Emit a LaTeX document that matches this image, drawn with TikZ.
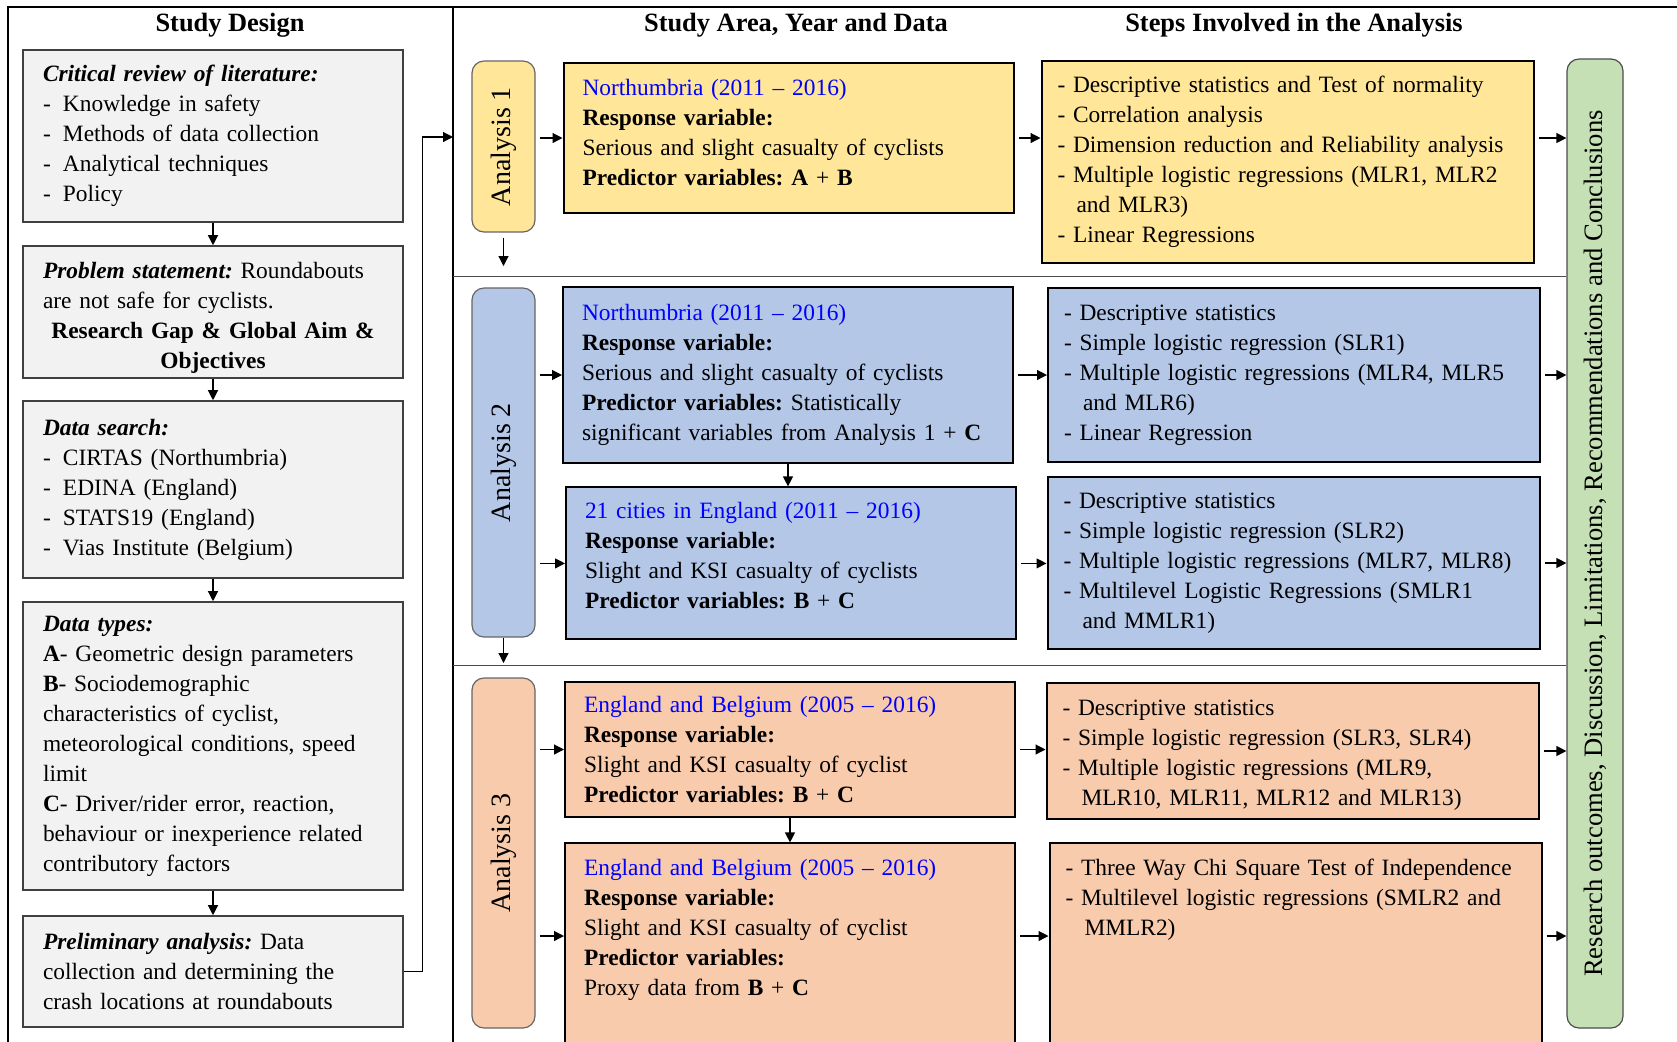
\documentclass[tikz,border=0pt]{standalone}
\usepackage{fontspec}
\setmainfont{Liberation Serif}
\usepackage{graphicx}
\usepackage{tikz}
\usetikzlibrary{arrows.meta,positioning}
\definecolor{boxgray}{RGB}{242,242,242}
\definecolor{anyellow}{RGB}{255,230,153}
\definecolor{anblue}{RGB}{180,199,231}
\definecolor{anpeach}{RGB}{248,203,173}
\definecolor{outgreen}{RGB}{197,224,180}
\definecolor{areablue}{RGB}{0,0,255}
\newcommand{\litem}{\makebox[10pt][l]{-}}

\begin{document}
\frenchspacing
\begin{tikzpicture}[
    x=1pt, y=-1pt,
    font=\fontsize{11.7}{15}\selectfont,
    coltitle/.style={font=\fontsize{13.2}{15}\selectfont\bfseries},
    sdbox/.style={draw=black!75, line width=0.8pt, fill=boxgray, align=left,
                  text width=170pt, inner xsep=10pt, inner ysep=4pt},
    databox/.style={draw=black, line width=1pt, align=left,
                    text width=206pt, inner xsep=9.5pt, inner ysep=4pt},
    stepbox/.style={draw=black, line width=1pt, align=left,
                    text width=230pt, inner xsep=8pt, inner ysep=4pt},
    anbox/.style={draw=black!60, line width=0.6pt, rounded corners=6pt,
                  minimum width=31.5pt, font=\fontsize{14}{16}\selectfont},
    outline/.style={line width=1pt},
    divline/.style={draw=black!70, line width=0.6pt},
    arr/.style={-{Triangle[length=5pt,width=5pt]}, line width=0.6pt},
    harr/.style={arr, shorten <=2pt}
]
\useasboundingbox (0,0) rectangle (838.5,520.5);
\clip (0,0) rectangle (838.5,520.5);

% frame and column titles
\draw[outline] (850,3.5) -- (4,3.5) -- (4,530);
\draw[outline] (226.5,3.5) -- (226.5,530);
\node[coltitle] (t1) at (115,12.5) {Study Design};
\node[coltitle] (t2) at (398,12.5) {Study Area, Year and Data};
\node[coltitle] (t3) at (647,12.5) {Steps Involved in the Analysis};

% study design column
\node[sdbox, minimum height=86pt] (review) at (106.5,68)
     {\textbf{\textit{Critical review of literature:}}\\
      \litem Knowledge in safety\\
      \litem Methods of data collection\\
      \litem Analytical techniques\\
      \litem Policy};
\node[sdbox, minimum height=66pt, text depth=41.6pt, below=11.2pt of review] (problem)
     {\textbf{\textit{Problem statement:}} Roundabouts\\
      are not safe for cyclists.\\
      \makebox[\linewidth]{\textbf{Research Gap \& Global Aim \&}}\\
      \makebox[\linewidth]{\textbf{Objectives}}};
\node[sdbox, minimum height=88.5pt, below=10.7pt of problem] (search)
     {\textbf{\textit{Data search:}}\\
      \litem CIRTAS (Northumbria)\\
      \litem EDINA (England)\\
      \litem STATS19 (England)\\
      \litem Vias Institute (Belgium)};
\node[sdbox, minimum height=144pt, below=11.2pt of search] (types)
     {\textbf{\textit{Data types:}}\\
      \textbf{A}- Geometric design parameters\\
      \textbf{B}- Sociodemographic\\
      characteristics of cyclist,\\
      meteorological conditions, speed\\
      limit\\
      \textbf{C}- Driver/rider error, reaction,\\
      behaviour or inexperience related\\
      contributory factors};
\node[sdbox, minimum height=55.5pt, below=12.2pt of types] (prelim)
     {\textbf{\textit{Preliminary analysis:}} Data\\
      collection and determining the\\
      crash locations at roundabouts};
\draw[arr] (review) -- (problem);
\draw[arr] (problem) -- (search);
\draw[arr] (search) -- (types);
\draw[arr] (types) -- (prelim);
\coordinate (entry) at (226.5,68.5);
\draw[arr] (prelim.east) -- ++(9.5,0) |- (entry);

% analysis labels
\node[anbox, fill=anyellow, minimum height=85.5pt] (A1) at (251.75,73.25)
     {\rotatebox{90}{Analysis 1}};
\node[anbox, fill=anblue, minimum height=174.5pt] (A2) at (251.75,231.25)
     {\rotatebox{90}{Analysis 2}};
\node[anbox, fill=anpeach, minimum height=175pt] (A3) at (251.75,426.5)
     {\rotatebox{90}{Analysis 3}};
\node[anbox, fill=outgreen, draw=black!70, minimum width=28pt, minimum height=484.5pt,
      font=\fontsize{13.3}{16}\selectfont] (G) at (797.5,271.75)
     {\rotatebox{90}{Research outcomes, Discussion, Limitations, Recommendations and Conclusions}};

% row separators
\coordinate (sepA) at (226.5,138.25);
\coordinate (sepB) at (226.5,332.75);
\draw[divline] (sepA) -- (sepA -| G.west);
\draw[divline] (sepB) -- (sepB -| G.west);

% study area, year and data
\node[databox, fill=anyellow, minimum height=75pt, text depth=51pt] (d1) at (394.25,69)
     {\textcolor{areablue}{Northumbria (2011 – 2016)}\\
      \textbf{Response variable:}\\
      Serious and slight casualty of cyclists\\
      \textbf{Predictor variables: A} + \textbf{B}};
\node[databox, fill=anblue, minimum height=88pt] (d2a) at (394,187.5)
     {\textcolor{areablue}{Northumbria (2011 – 2016)}\\
      \textbf{Response variable:}\\
      Serious and slight casualty of cyclists\\
      \textbf{Predictor variables:} Statistically\\
      significant variables from Analysis 1 + \textbf{C}};
\node[databox, fill=anblue, minimum height=76pt, text depth=53pt, below=11.2pt of d2a, xshift=1.5pt] (d2b)
     {\textcolor{areablue}{21 cities in England (2011 – 2016)}\\
      \textbf{Response variable:}\\
      Slight and KSI casualty of cyclists\\
      \textbf{Predictor variables: B} + \textbf{C}};
\node[databox, fill=anpeach, minimum height=67.5pt] (d3a) at (395,374.75)
     {\textcolor{areablue}{England and Belgium (2005 – 2016)}\\
      \textbf{Response variable:}\\
      Slight and KSI casualty of cyclist\\
      \textbf{Predictor variables: B} + \textbf{C}};
\node[databox, fill=anpeach, inner ysep=8pt, text depth=100pt, below=12.2pt of d3a] (d3b)
     {\textcolor{areablue}{England and Belgium (2005 – 2016)}\\
      \textbf{Response variable:}\\
      Slight and KSI casualty of cyclist\\
      \textbf{Predictor variables:}\\
      Proxy data from \textbf{B} + \textbf{C}};

% steps involved in the analysis
\node[stepbox, fill=anyellow, minimum height=101pt] (s1) at (643.75,81)
     {- Descriptive statistics and Test of normality\\
      - Correlation analysis\\
      - Dimension reduction and Reliability analysis\\
      - Multiple logistic regressions (MLR1, MLR2\\
      \hspace*{9.5pt}and MLR3)\\
      - Linear Regressions};
\node[stepbox, fill=anblue, minimum height=87pt] (s2a) at (647,187.5)
     {- Descriptive statistics\\
      - Simple logistic regression (SLR1)\\
      - Multiple logistic regressions (MLR4, MLR5\\
      \hspace*{9.5pt}and MLR6)\\
      - Linear Regression};
\node[stepbox, fill=anblue, minimum height=86pt] (s2b) at (646.75,281.5)
     {- Descriptive statistics\\
      - Simple logistic regression (SLR2)\\
      - Multiple logistic regressions (MLR7, MLR8)\\
      - Multilevel Logistic Regressions (SMLR1\\
      \hspace*{9.5pt}and MMLR1)};
\node[stepbox, fill=anpeach, minimum height=68pt, text depth=43.6pt] (s3a) at (646.25,375.5)
     {- Descriptive statistics\\
      - Simple logistic regression (SLR3, SLR4)\\
      - Multiple logistic regressions (MLR9,\\
      \hspace*{9.5pt}MLR10, MLR11, MLR12 and MLR13)};
\node[stepbox, fill=anpeach, inner ysep=8pt, text depth=100pt, below=11.2pt of s3a, xshift=1.5pt] (s3b)
     {- Three Way Chi Square Test of Independence\\
      - Multilevel logistic regressions (SMLR2 and\\
      \hspace*{9.5pt}MMLR2)};

% connectors
\coordinate (A1end) at (251.75,133);
\coordinate (A2end) at (251.75,331.5);
\draw[arr, shorten <=2.5pt] (A1.south) -- (A1end);
\draw[arr] (A2.south) -- (A2end);
\draw[harr] (A1.east |- d1.west) -- (d1.west);
\draw[harr] (d1.east) -- (s1.west |- d1.east);
\draw[harr] (s1.east |- d1.east) -- (G.west |- d1.east);
\draw[harr] (A2.east |- d2a.west) -- (d2a.west);
\draw[harr] (d2a.east) -- (s2a.west |- d2a.east);
\draw[harr] (s2a.east) -- (G.west |- s2a.east);
\draw[harr] (A2.east |- d2b.west) -- (d2b.west);
\draw[harr] (d2b.east) -- (s2b.west |- d2b.east);
\draw[harr] (s2b.east) -- (G.west |- s2b.east);
\draw[arr] (d2a.south) -- (d2a.south |- d2b.north);
\draw[harr] (A3.east |- d3a.west) -- (d3a.west);
\draw[harr] (d3a.east) -- (s3a.west |- d3a.east);
\draw[harr] (s3a.east) -- (G.west |- s3a.east);
\draw[arr] (d3a.south) -- (d3a.south |- d3b.north);
\coordinate (r3b) at (0,468);
\draw[harr] (A3.east |- r3b) -- (d3b.west |- r3b);
\draw[harr] (d3b.east |- r3b) -- (s3b.west |- r3b);
\draw[harr] (s3b.east |- r3b) -- (G.west |- r3b);
\end{tikzpicture}
\end{document}
